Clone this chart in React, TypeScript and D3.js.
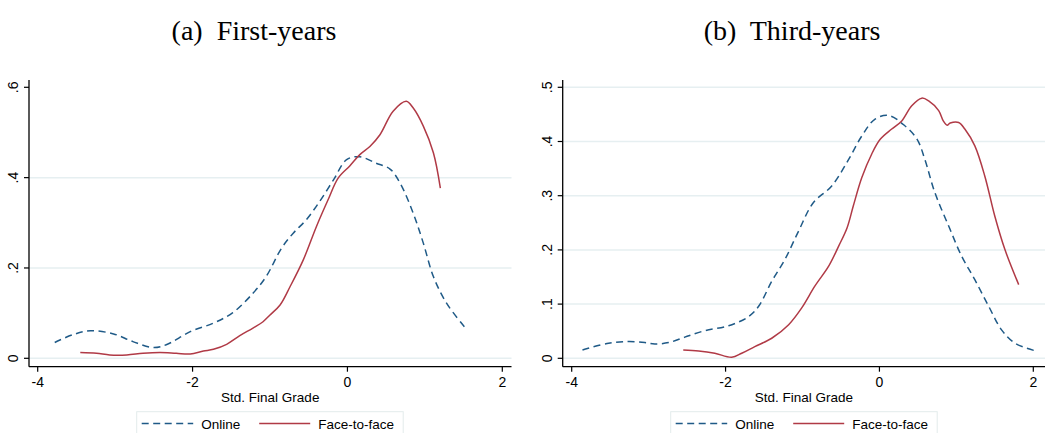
import React from "react";
import * as d3 from "d3";

// ---- Data ----
const xTicks = [-4, -2, 0, 2];
const yTicksA = [0, 0.2, 0.4, 0.6];
const yTicksB = [0, 0.1, 0.2, 0.3, 0.4, 0.5];
const yLabelsA = ["0", ".2", ".4", ".6"];
const yLabelsB = ["0", ".1", ".2", ".3", ".4", ".5"];
const gridA = [0, 0.2, 0.4];
const gridB = [0, 0.1, 0.2, 0.3, 0.4, 0.5];

// (a) First-years
const onlineA: [number, number][] = [
  [-3.78, 0.035], [-3.55, 0.052], [-3.32, 0.061], [-3.02, 0.054], [-2.77, 0.037],
  [-2.51, 0.024], [-2.34, 0.03], [-2.03, 0.059], [-1.73, 0.078], [-1.48, 0.101],
  [-1.22, 0.144], [-1.05, 0.181], [-0.85, 0.244], [-0.7, 0.277], [-0.53, 0.307],
  [-0.36, 0.347], [-0.18, 0.395], [-0.01, 0.44], [0.16, 0.446], [0.37, 0.432],
  [0.55, 0.419], [0.68, 0.388], [0.85, 0.321], [0.98, 0.255], [1.11, 0.181],
  [1.28, 0.122], [1.51, 0.07],
];
const f2fA: [number, number][] = [
  [-3.45, 0.0126], [-3.24, 0.011], [-3.07, 0.0074], [-2.85, 0.0074], [-2.64, 0.011],
  [-2.42, 0.0126], [-2.21, 0.011], [-2.03, 0.0096], [-1.86, 0.016], [-1.73, 0.02],
  [-1.56, 0.031], [-1.39, 0.05], [-1.22, 0.067], [-1.09, 0.081], [-1.0, 0.096],
  [-0.87, 0.118], [-0.74, 0.159], [-0.57, 0.218], [-0.4, 0.292], [-0.25, 0.351],
  [-0.12, 0.399], [0.03, 0.426], [0.16, 0.451], [0.29, 0.469], [0.42, 0.495],
  [0.59, 0.547], [0.76, 0.569], [0.85, 0.554], [0.98, 0.514], [1.11, 0.455],
  [1.2, 0.377],
];

// (b) Third-years
const onlineB: [number, number][] = [
  [-3.86, 0.0154], [-3.52, 0.0278], [-3.26, 0.031], [-3.05, 0.029], [-2.92, 0.0265],
  [-2.74, 0.029], [-2.53, 0.039], [-2.27, 0.051], [-1.96, 0.06], [-1.7, 0.077],
  [-1.57, 0.096], [-1.4, 0.142], [-1.23, 0.182], [-1.05, 0.235], [-0.86, 0.287],
  [-0.62, 0.318], [-0.4, 0.367], [-0.23, 0.41], [-0.06, 0.441], [0.12, 0.448],
  [0.33, 0.429], [0.49, 0.404], [0.59, 0.367], [0.72, 0.306], [0.9, 0.244],
  [1.07, 0.188], [1.24, 0.145], [1.42, 0.096], [1.59, 0.052], [1.76, 0.028],
  [2.02, 0.014],
];
const f2fB: [number, number][] = [
  [-2.55, 0.0154], [-2.35, 0.0136], [-2.14, 0.0093], [-1.92, 0.0019], [-1.79, 0.0093],
  [-1.62, 0.0216], [-1.4, 0.037], [-1.18, 0.062], [-1.01, 0.093], [-0.84, 0.133],
  [-0.66, 0.17], [-0.53, 0.207], [-0.42, 0.241], [-0.34, 0.281], [-0.23, 0.333],
  [-0.1, 0.377], [0.01, 0.404], [0.16, 0.423], [0.29, 0.438], [0.42, 0.466],
  [0.55, 0.48], [0.64, 0.475], [0.77, 0.457], [0.83, 0.438], [0.88, 0.43],
  [0.92, 0.434], [1.03, 0.435], [1.11, 0.423], [1.24, 0.392], [1.37, 0.336],
  [1.5, 0.262], [1.63, 0.201], [1.81, 0.136],
];

const BLUE = "#1f5a87";
const RED = "#b03a46";
const GRID = "#e6eff1";
const SANS = "'Liberation Sans', Arial, sans-serif";
const SERIF = "'Liberation Serif', 'Times New Roman', serif";

type PanelProps = {
  title: string;
  titleX: number;
  axisX: number;
  rightX: number;
  xRange: [number, number];
  yMax: number;
  yTicks: number[];
  yLabels: string[];
  grid: number[];
  online: [number, number][];
  f2f: [number, number][];
  legendX: number;
};

function Panel(p: PanelProps) {
  const top = 80;
  const axisY = 366.7;
  const x = d3.scaleLinear().domain([-4, 2]).range(p.xRange);
  const y = d3.scaleLinear().domain([0, p.yMax]).range([358.3, 87.3]);
  const line = d3
    .line<[number, number]>()
    .x((d) => x(d[0]))
    .y((d) => y(d[1]))
    .curve(d3.curveCatmullRom.alpha(0.5));
  const cx = (p.axisX + p.rightX) / 2;
  const lx = p.legendX;
  return (
    <g>
      <text
        x={p.titleX}
        y={40}
        textAnchor="middle"
        fontFamily={SERIF}
        fontSize={28}
        fill="#000"
        style={{ whiteSpace: "pre" }}
      >
        {p.title}
      </text>
      {p.grid.map((g) => (
        <line key={g} x1={p.axisX} x2={p.rightX} y1={y(g)} y2={y(g)} stroke={GRID} strokeWidth={1.5} />
      ))}
      <path d={line(p.online) || ""} fill="none" stroke={BLUE} strokeWidth={1.5} strokeDasharray="7,4.5" />
      <path d={line(p.f2f) || ""} fill="none" stroke={RED} strokeWidth={1.5} />
      <line x1={p.axisX} x2={p.axisX} y1={top} y2={axisY} stroke="#000" strokeWidth={1.3} />
      <line x1={p.axisX} x2={p.rightX} y1={axisY} y2={axisY} stroke="#000" strokeWidth={1.3} />
      {p.yTicks.map((t, i) => (
        <g key={t}>
          <line x1={p.axisX - 5} x2={p.axisX} y1={y(t)} y2={y(t)} stroke="#000" strokeWidth={1.2} />
          <text
            transform={`translate(${p.axisX - 11},${y(t)}) rotate(-90)`}
            textAnchor="middle"
            fontFamily={SANS}
            fontSize={14}
            fill="#000"
          >
            {p.yLabels[i]}
          </text>
        </g>
      ))}
      {xTicks.map((t) => (
        <g key={t}>
          <line x1={x(t)} x2={x(t)} y1={axisY} y2={axisY + 5} stroke="#000" strokeWidth={1.2} />
          <text x={x(t)} y={387} textAnchor="middle" fontFamily={SANS} fontSize={14} fill="#000">
            {t}
          </text>
        </g>
      ))}
      <text x={cx} y={401.5} textAnchor="middle" fontFamily={SANS} fontSize={13.5} fill="#000">
        Std. Final Grade
      </text>
      <rect x={lx} y={411.7} width={266.5} height={40} fill="#fff" stroke="#e3ecec" strokeWidth={1} />
      <line x1={lx + 5} x2={lx + 56.5} y1={423.5} y2={423.5} stroke={BLUE} strokeWidth={1.5} strokeDasharray="7,4.5" />
      <text x={lx + 64.5} y={428.5} fontFamily={SANS} fontSize={13.5} fill="#000">
        Online
      </text>
      <line x1={lx + 122.5} x2={lx + 173.5} y1={423.5} y2={423.5} stroke={RED} strokeWidth={1.5} />
      <text x={lx + 181.5} y={428.5} fontFamily={SANS} fontSize={13.5} fill="#000">
        Face-to-face
      </text>
    </g>
  );
}

export default function App() {
  return (
    <svg
      width={1045}
      height={433}
      style={{ position: "absolute", left: 0, top: 0, background: "#fff" }}
    >
      <rect x={0} y={0} width={1045} height={433} fill="#fff" />
      <Panel
        title="(a)  First-years"
        titleX={254}
        axisX={29}
        rightX={511.5}
        xRange={[37.7, 502.3]}
        yMax={0.6}
        yTicks={yTicksA}
        yLabels={yLabelsA}
        grid={gridA}
        online={onlineA}
        f2f={f2fA}
        legendX={136.7}
      />
      <Panel
        title="(b)  Third-years"
        titleX={792}
        axisX={562.7}
        rightX={1045}
        xRange={[571.7, 1033.3]}
        yMax={0.5}
        yTicks={yTicksB}
        yLabels={yLabelsB}
        grid={gridB}
        online={onlineB}
        f2f={f2fB}
        legendX={670.7}
      />
    </svg>
  );
}
